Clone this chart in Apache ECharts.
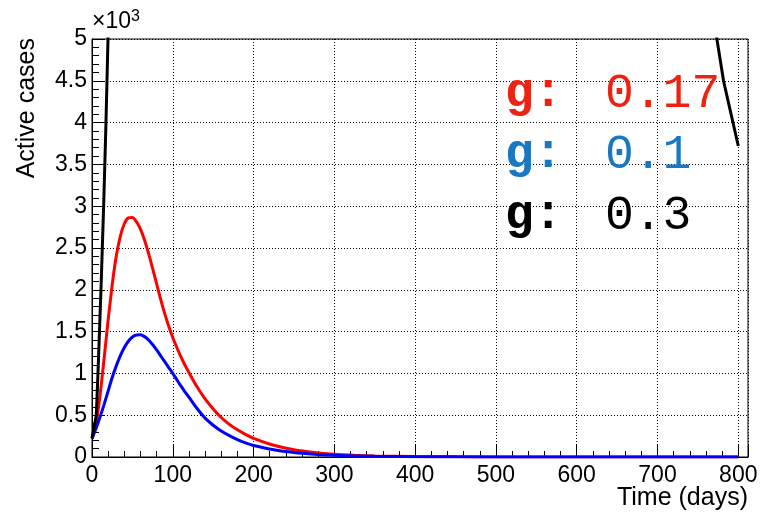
<!DOCTYPE html>
<html>
<head>
<meta charset="utf-8">
<script src="https://cdn.jsdelivr.net/npm/echarts@6/dist/echarts.min.js"></script>
<style>
  html, body { margin: 0; padding: 0; background: #ffffff; }
  #chart { width: 761px; height: 519px; }
</style>
</head>
<body>
<div id="chart"></div>
<script>
// Active cases over time for three values of g
const redDays   = [0, 5, 10, 15, 20, 25, 30, 35, 40, 45, 50, 55, 60, 65, 70, 75, 80, 85, 90, 95, 100, 105, 110, 115, 120, 130, 140, 150, 160, 170, 180, 190, 200, 225, 250, 275, 300, 325, 350, 400, 450, 500, 600, 700, 800];
const redCases  = [220, 400, 740, 1180, 1640, 2060, 2400, 2640, 2790, 2860, 2865, 2815, 2725, 2595, 2435, 2255, 2070, 1885, 1715, 1565, 1430, 1310, 1200, 1100, 1010, 840, 695, 575, 472, 390, 325, 270, 223, 140, 86, 53, 32, 20, 12, 5, 2, 1, 0, 0, 0];

const blueDays  = [0, 5, 10, 15, 20, 25, 30, 35, 40, 45, 50, 55, 60, 65, 70, 75, 80, 85, 90, 95, 100, 105, 110, 115, 120, 130, 140, 150, 160, 170, 180, 190, 200, 225, 250, 275, 300, 350, 400, 500, 600, 700, 800];
const blueCases = [220, 340, 480, 630, 790, 950, 1090, 1210, 1310, 1385, 1435, 1460, 1462, 1440, 1400, 1345, 1280, 1210, 1140, 1070, 1000, 925, 850, 780, 715, 580, 465, 380, 310, 255, 207, 168, 138, 86, 53, 33, 20, 8, 3, 1, 0, 0, 0];

const blackDays  = [0, 5.3, 7.4, 11.1, 14.4, 17.3, 19.8, 22, 40, 400, 740, 760, 773.5, 781.7, 800];
const blackCases = [223, 500, 1000, 2000, 3000, 4000, 5000, 5700, 9000, 12000, 7000, 5820, 5000, 4500, 3720];

// Legend entries: parameter value, text colour, line colour
const gValues     = ['0.17', '0.1', '0.3'];
const gTextColors = ['#ee2211', '#1878c4', '#000000'];
const lineColors  = ['#ff0000', '#0000ff', '#000000'];

const xMax = 812;
const yMax = 5000;
const xMajor = 100, xMinor = 20, yMajor = 500;

const pairs = (xs, ys) => xs.map((x, i) => [x, ys[i]]);

const labelFont = 'Liberation Sans, Arial, Helvetica, sans-serif';
const monoFont = 'Liberation Mono, Courier New, monospace';

const dotted = { color: '#000', width: 1, type: [1, 2] };

const chart = echarts.init(document.getElementById('chart'), null, { renderer: 'canvas' });

const legendRows = [];
gValues.forEach((v, i) => {
  const cy = 94 + i * 61;
  legendRows.push({
    type: 'text', left: 505, top: cy - 24, z: 10,
    style: { text: 'g:', font: 'bold 48px ' + monoFont, fill: gTextColors[i] }
  });
  legendRows.push({
    type: 'text', left: 605, top: cy - 24, z: 10,
    style: { text: v, font: '48px ' + monoFont, fill: gTextColors[i] }
  });
});

chart.setOption({
  animation: false,
  backgroundColor: '#ffffff',
  grid: {
    left: 92, top: 39, right: 13, bottom: 62,
    show: true, borderColor: '#000', borderWidth: 1, backgroundColor: 'transparent'
  },
  xAxis: [
    {
      type: 'value', min: 0, max: xMax, interval: xMinor,
      axisLine: { show: true, onZero: false, lineStyle: { color: '#000', width: 1 } },
      axisTick: { show: true, inside: true, length: 6, lineStyle: { color: '#000', width: 1 } },
      axisLabel: { show: false },
      splitLine: { show: false }
    },
    {
      type: 'value', min: 0, max: xMax, interval: xMajor, position: 'bottom', offset: 0,
      axisLine: { show: false },
      axisTick: { show: true, inside: true, length: 12, lineStyle: { color: '#000', width: 1 } },
      axisLabel: {
        show: true, margin: 7, color: '#000', fontSize: 23, fontFamily: labelFont,
        formatter: v => (v % xMajor === 0 && v <= 800) ? String(v) : ''
      },
      splitLine: { show: true, lineStyle: dotted }
    }
  ],
  yAxis: {
    type: 'value', min: 0, max: yMax, interval: yMajor,
    axisLine: { show: true, onZero: false, lineStyle: { color: '#000', width: 1 } },
    axisTick: { show: true, inside: true, length: 12, lineStyle: { color: '#000', width: 1 } },
    minorTick: { show: true, splitNumber: 5, length: 7, lineStyle: { color: '#000', width: 1 } },
    axisLabel: {
      show: true, margin: 5, color: '#000', fontSize: 23, fontFamily: labelFont,
      formatter: v => String(v / 1000)
    },
    splitLine: { show: true, lineStyle: dotted }
  },
  series: [
    {
      type: 'line', name: 'g = ' + gValues[0], xAxisIndex: 0, data: pairs(redDays, redCases),
      showSymbol: false, smooth: 0.25, clip: true,
      lineStyle: { color: lineColors[0], width: 3 }
    },
    {
      type: 'line', name: 'g = ' + gValues[1], xAxisIndex: 0, data: pairs(blueDays, blueCases),
      showSymbol: false, smooth: 0.25, clip: true,
      lineStyle: { color: lineColors[1], width: 3 }
    },
    {
      type: 'line', name: 'g = ' + gValues[2], xAxisIndex: 0, data: pairs(blackDays, blackCases),
      showSymbol: false, smooth: false, clip: true,
      lineStyle: { color: lineColors[2], width: 3 }
    }
  ],
  graphic: [
    {
      type: 'text', left: 92, top: 9, z: 10,
      style: {
        text: '{a|×10}{s|3}',
        rich: {
          a: { font: '23px ' + labelFont, fill: '#000' },
          s: { font: '16px ' + labelFont, fill: '#000', verticalAlign: 'top', padding: [0, 0, 10, 0] }
        }
      }
    },
    {
      type: 'text', right: 13, top: 486, z: 10,
      style: { text: 'Time (days)', font: '25px ' + labelFont, fill: '#000' }
    },
    {
      type: 'text', x: 15, y: 38, rotation: Math.PI / 2, z: 10,
      style: { text: 'Active cases', font: '25px ' + labelFont, fill: '#000', align: 'right', verticalAlign: 'top' }
    }
  ].concat(legendRows)
});
</script>
</body>
</html>
